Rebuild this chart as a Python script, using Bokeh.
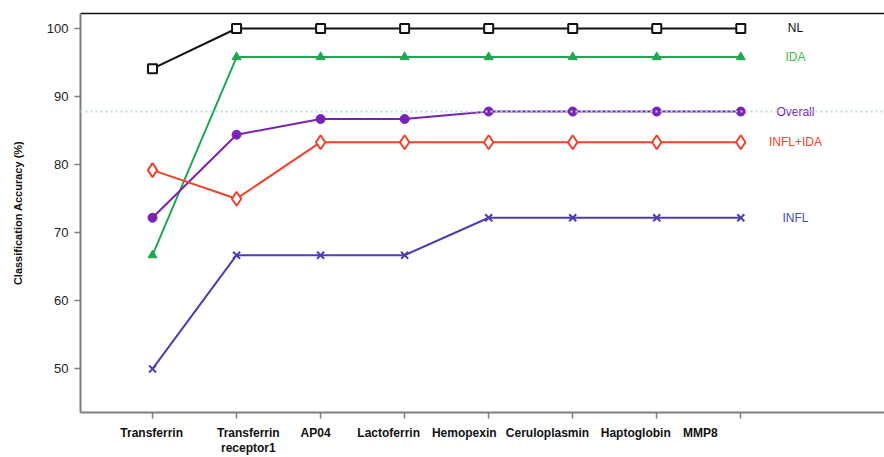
from bokeh.plotting import figure
from bokeh.models import LinearAxis, FixedTicker, Span, Range1d
from bokeh.embed import file_html
from bokeh.resources import INLINE
from bokeh.core.properties import value

proteins = ["Transferrin", "Transferrin\nreceptor1", "AP04", "Lactoferrin",
            "Hemopexin", "Ceruloplasmin", "Haptoglobin", "MMP8"]
xpos = [1, 2, 3, 4, 5, 6, 7, 8]
label_pos = [0.99, 2.14, 2.94, 3.81, 4.71, 5.70, 6.75, 7.52]

nl = [94.1, 100, 100, 100, 100, 100, 100, 100]
ida = [66.7, 95.8, 95.8, 95.8, 95.8, 95.8, 95.8, 95.8]
overall = [72.2, 84.4, 86.7, 86.7, 87.8, 87.8, 87.8, 87.8]
infl_ida = [79.2, 75.0, 83.3, 83.3, 83.3, 83.3, 83.3, 83.3]
infl = [50.0, 66.7, 66.7, 66.7, 72.2, 72.2, 72.2, 72.2]

series_names = ["NL", "IDA", "Overall", "INFL+IDA", "INFL"]
line_colors = ["#111111", "#1fa84f", "#7a22b4", "#f0412a", "#4b3db5"]
text_colors = ["#111111", "#3cbb48", "#7a22b4", "#f0412a", "#4650b0"]
series_label_x = 8.65

FONT = "Liberation Sans"

p = figure(width=884, height=457, output_backend="svg", toolbar_location=None,
           x_range=Range1d(0.143, 9.71), y_range=Range1d(43.6, 102.2),
           min_border_left=80, min_border_right=0, min_border_top=13,
           min_border_bottom=30)
p.outline_line_color = None
p.xgrid.visible = False
p.ygrid.visible = False
p.background_fill_color = "white"

# y axis
ya = p.yaxis[0]
ya.ticker = FixedTicker(ticks=[50, 60, 70, 80, 90, 100])
ya.axis_line_color = "#7f7f7f"
ya.axis_line_width = 2
ya.major_tick_line_color = "#7f7f7f"
ya.major_tick_line_width = 1.5
ya.major_tick_out = 6
ya.major_tick_in = 0
ya.minor_tick_line_color = None
ya.major_label_text_font = FONT
ya.major_label_text_font_size = "13px"
ya.major_label_text_color = "#222222"
ya.major_label_standoff = 6
ya.axis_label = "Classification Accuracy (%)"
ya.axis_label_text_font = FONT
ya.axis_label_text_font_size = "11px"
ya.axis_label_text_font_style = "bold"
ya.axis_label_text_color = "#111111"
ya.axis_label_standoff = 20

# bottom tick axis (marks only)
xa = p.xaxis[0]
xa.ticker = FixedTicker(ticks=xpos)
xa.major_label_overrides = {x: "" for x in xpos}
xa.major_label_text_font_size = "0px"
xa.major_label_standoff = 0
xa.axis_line_color = "#7f7f7f"
xa.axis_line_width = 2
xa.major_tick_line_color = "#7f7f7f"
xa.major_tick_line_width = 1.5
xa.major_tick_out = 6
xa.major_tick_in = 0
xa.minor_tick_line_color = None

# bottom label axis
la = LinearAxis(ticker=FixedTicker(ticks=label_pos),
                major_label_overrides={lp: name for lp, name in zip(label_pos, proteins)},
                axis_line_color=None, major_tick_line_color=None,
                minor_tick_line_color=None, major_label_standoff=1,
                major_label_text_font=FONT, major_label_text_font_size="12px",
                major_label_text_line_height=1.1,
                major_label_text_font_style="bold", major_label_text_color="#111111")
p.add_layout(la, "below")

# top border
ta = LinearAxis(ticker=FixedTicker(ticks=[]), axis_line_color="#111111",
                axis_line_width=1.5, major_tick_line_color=None,
                minor_tick_line_color=None, major_label_text_font_size="0px",
                major_label_standoff=0)
p.add_layout(ta, "above")

# overall dotted reference line
p.add_layout(Span(location=overall[-1], dimension="width", line_color="#b5dde3",
                  line_width=2, line_dash="2 3"))

series = [nl, ida, overall, infl_ida, infl]
for vals, col in zip(series, line_colors):
    p.line(xpos, vals, line_color=col, line_width=2)

p.scatter(xpos, nl, marker="square", size=9, fill_color="white",
          line_color=line_colors[0], line_width=2)
p.scatter(xpos, ida, marker="triangle", size=9, fill_color=line_colors[1],
          line_color=line_colors[1], line_width=1)
p.scatter(xpos, overall, marker="circle", size=9, fill_color=line_colors[2],
          line_color=line_colors[2], line_width=1)
p.scatter(xpos, infl_ida, marker="diamond", size=14, fill_color="white",
          line_color=line_colors[3], line_width=2)
p.scatter(xpos, infl, marker="x", size=10, line_color=line_colors[4], line_width=2)

for name, vals, col in zip(series_names, series, text_colors):
    p.text([series_label_x], [vals[-1]], text=[name], text_color=col,
           text_font=value(FONT), text_font_size="12px",
           text_align="center", text_baseline="middle")

open("out.html", "w").write(file_html(p, INLINE))
